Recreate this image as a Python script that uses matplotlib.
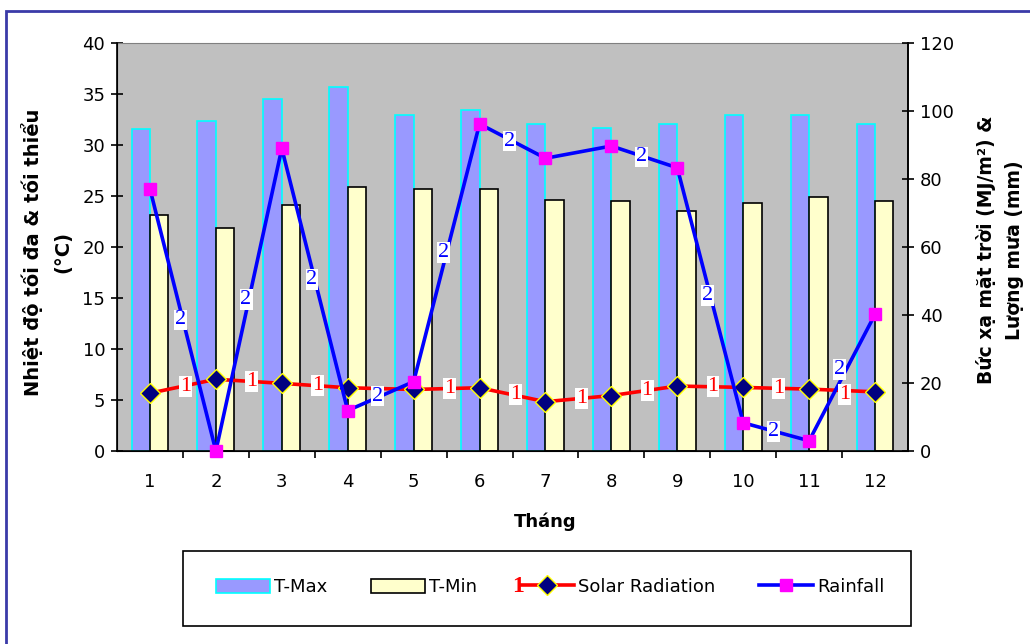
import numpy as np
import matplotlib.pyplot as plt
from matplotlib.patches import Rectangle
from matplotlib.lines import Line2D

plt.rcParams['font.family'] = ['DejaVu Sans']

months = np.arange(1, 13)
t_max = [31.6, 32.4, 34.5, 35.7, 32.9, 33.4, 32.1, 31.7, 32.1, 32.9, 32.9, 32.1]
t_min = [23.1, 21.9, 24.1, 25.9, 25.7, 25.7, 24.6, 24.5, 23.5, 24.3, 24.9, 24.5]
solar = [17.0, 21.1, 19.9, 18.6, 18.1, 18.6, 14.5, 16.3, 19.1, 18.7, 18.2, 17.4]
rain = [77.1, 0.0, 89.0, 11.9, 20.4, 96.2, 86.1, 89.7, 83.3, 8.3, 3.0, 40.2]
# segments that carry a series number label in the original
solar_lbl = [0, 1, 2, 4, 5, 6, 7, 8, 9, 10]
rain_lbl = [0, 1, 2, 3, 4, 5, 7, 8, 9, 10]

fig = plt.figure(figsize=(10.3, 6.44), dpi=100)
ax = fig.add_axes([117/1030, 1-451/644, 791/1030, 408/644])
ax.set_facecolor('#C0C0C0')

w = 0.28
ax.bar(months - w/2, t_max, w, color='#9999FF', edgecolor='#00FFFF', linewidth=1.2, label='T-Max')
ax.bar(months + w/2, t_min, w, color='#FFFFCC', edgecolor='black', linewidth=1.2, label='T-Min')
ax.set_xlim(0.5, 12.5)
ax.set_ylim(0, 40)
ax.set_yticks(np.arange(0, 41, 5))
ax.set_xticks(months)
ax.set_xticklabels([str(m) for m in months])
ax.set_xticks(np.arange(1.5, 12.5, 1), minor=True)
ax.tick_params(axis='x', which='major', length=0, pad=16, labelsize=13)
ax.tick_params(axis='x', which='minor', length=5, width=1.2, direction='out')
ax.tick_params(axis='y', length=9, width=1.2, direction='inout', labelsize=13, pad=4)
ax.spines['top'].set_color('#808080')
for s in ['left', 'bottom', 'right']:
    ax.spines[s].set_linewidth(1.2)

ax2 = ax.twinx()
ax2.set_ylim(0, 120)
ax2.set_yticks(np.arange(0, 121, 20))
ax2.tick_params(axis='y', length=9, width=1.2, direction='inout', labelsize=13, pad=4)
ax2.spines['right'].set_linewidth(1.2)
ax2.spines['top'].set_visible(False)

ax2.plot(months, solar, color='#FF0000', lw=2.6, marker='D', ms=10,
         mfc='#000080', mec='#FFFF00', mew=1, label='Solar Radiation', zorder=3)
ax2.plot(months, rain, color='#0000FF', lw=2.6, marker='s', ms=8.5,
         mfc='#FF00FF', mec='#FF00FF', label='Rainfall', zorder=4, clip_on=False)

for i in solar_lbl:
    dy = -3 if i == 10 else 0
    ax2.annotate('1', (months[i] + 0.5, (solar[i] + solar[i+1]) / 2), xytext=(2, dy),
                 textcoords='offset points', color='#FF0000', family='Liberation Serif',
                 fontsize=16, ha='center', va='center', zorder=5,
                 bbox=dict(facecolor='white', edgecolor='none', pad=0.6))
for i in rain_lbl:
    dy = 6 if i == 10 else 0
    ax2.annotate('2', (months[i] + 0.5, (rain[i] + rain[i+1]) / 2), xytext=(-2, dy),
                 textcoords='offset points', color='#0000FF', family='Liberation Serif',
                 fontsize=16, ha='center', va='center', zorder=6,
                 bbox=dict(facecolor='white', edgecolor='none', pad=0.6))

fig.text(545/1030, 1-522/644, 'Tháng', fontsize=13, fontweight='bold', ha='center', va='center')
fig.text(47/1030, 1-252/644, 'Nhiệt độ tối đa & tối thiểu\n(°C)', fontsize=14, fontweight='bold',
         rotation=90, ha='center', va='center', linespacing=1.7)
fig.text(1000/1030, 1-250/644, 'Bức xạ mặt trời (MJ/m²) &\nLượng mưa (mm)', fontsize=13.5,
         fontweight='bold', rotation=90, ha='center', va='center', linespacing=1.65)

# outer chart frame
fig.patches.append(Rectangle((6/1030, -0.1), 1.2, 1-11/644+0.1, transform=fig.transFigure,
                             fill=False, edgecolor='#3A3AA8', linewidth=2))
# legend frame
fig.patches.append(Rectangle((183/1030, 1-626/644), 728/1030, 75/644, transform=fig.transFigure,
                             fill=False, edgecolor='black', linewidth=1.2))

handles = [
    Rectangle((0, 0), 1, 1, facecolor='#9999FF', edgecolor='#00FFFF', linewidth=1.2),
    Rectangle((0, 0), 1, 1, facecolor='#FFFFCC', edgecolor='black', linewidth=1.2),
    Line2D([], [], color='#FF0000', lw=2.6, marker='D', ms=10, mfc='#000080', mec='#FFFF00'),
    Line2D([], [], color='#0000FF', lw=2.6, marker='s', ms=8.5, mfc='#FF00FF', mec='#FF00FF'),
]
fig.legend(handles, ['T-Max', 'T-Min', 'Solar Radiation', 'Rainfall'], ncol=4, frameon=False,
           loc='center', bbox_to_anchor=(550/1030, 1-587/644), fontsize=13,
           handlelength=3.0, handleheight=0.8, handletextpad=0.22, columnspacing=2.4)
fig.text(518/1030, 1-587/644, '1', color='#FF0000', family='Liberation Serif', fontsize=17,
         fontweight='bold', ha='center', va='center', zorder=10)

fig.savefig('out.png', dpi=100)
